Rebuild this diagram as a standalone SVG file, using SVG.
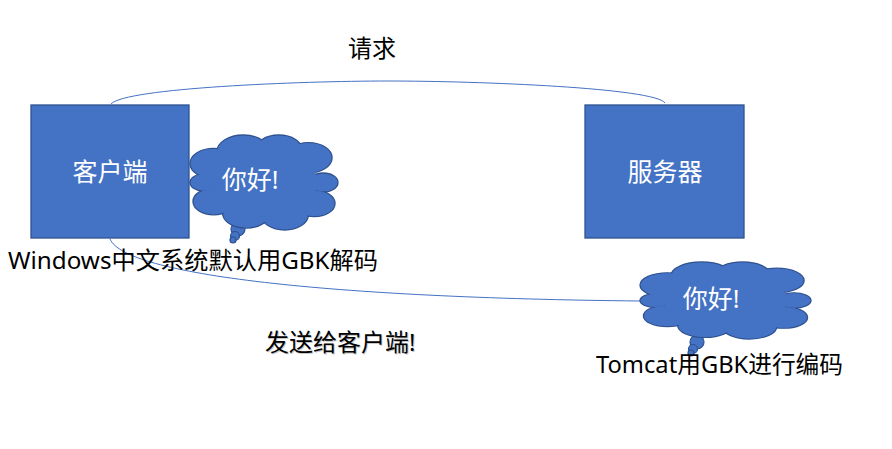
<svg xmlns="http://www.w3.org/2000/svg" xmlns:xlink="http://www.w3.org/1999/xlink" width="892" height="449" viewBox="0 0 892 449">
<style>
.box{fill:#4472C4;stroke:#2F528F;stroke-width:1.3}
.lbl{font-family:"Noto Sans","Noto Sans CJK SC",sans-serif;font-size:24px;fill:#000}
.wl{font-family:"Noto Sans","Noto Sans CJK SC",sans-serif;font-size:25px;fill:#fff;text-anchor:middle}
.conn{fill:none;stroke:#4472C4;stroke-width:1}
.cs circle{fill:#4472C4;stroke:#2F528F;stroke-width:1.3}
.cf circle{fill:#4472C4;stroke:none}
.tail{fill:#4472C4;stroke:#2F528F;stroke-width:1.2}
</style>
<defs>
<g id="cloud">
<g class="cs">
<circle cx="16" cy="30" r="16" vector-effect="non-scaling-stroke"/>
<circle cx="36" cy="18" r="18" vector-effect="non-scaling-stroke"/>
<circle cx="60" cy="16" r="16" vector-effect="non-scaling-stroke"/>
<circle cx="80" cy="24" r="16" vector-effect="non-scaling-stroke"/>
<circle cx="90" cy="50" r="10" vector-effect="non-scaling-stroke"/>
<circle cx="84" cy="72" r="14" vector-effect="non-scaling-stroke"/>
<circle cx="64" cy="84" r="16" vector-effect="non-scaling-stroke"/>
<circle cx="38" cy="82" r="16" vector-effect="non-scaling-stroke"/>
<circle cx="16" cy="70" r="14" vector-effect="non-scaling-stroke"/>
<circle cx="9" cy="50" r="9" vector-effect="non-scaling-stroke"/>
</g>
<g class="cf">
<circle cx="16" cy="30" r="15.3"/>
<circle cx="36" cy="18" r="17.3"/>
<circle cx="60" cy="16" r="15.3"/>
<circle cx="80" cy="24" r="15.3"/>
<circle cx="90" cy="50" r="9.3"/>
<circle cx="84" cy="72" r="13.3"/>
<circle cx="64" cy="84" r="15.3"/>
<circle cx="38" cy="82" r="15.3"/>
<circle cx="16" cy="70" r="13.3"/>
<circle cx="9" cy="50" r="8.3"/>
<circle cx="50" cy="50" r="36"/>
</g>
</g>
</defs>
<g id="connectors">
<path class="conn" d="M111,104 C125,88 300,81 388,81 C480,81 655,88 665,103"/>
<path class="conn" d="M110,239 C125,275 330,298 641,301"/>
</g>
<text class="lbl" x="372" y="57" text-anchor="middle">请求</text>
<g id="client">
<rect class="box" x="31" y="105" width="158" height="133"/>
<text class="wl" x="110" y="181">客户端</text>
</g>
<g id="server">
<rect class="box" x="585" y="105" width="159" height="133"/>
<text class="wl" x="665" y="181">服务器</text>
</g>
<g id="cloud1">
<circle class="tail" cx="238" cy="229" r="7"/>
<circle class="tail" cx="235" cy="236" r="4.5"/>
<circle class="tail" cx="233" cy="240" r="3"/>
<use xlink:href="#cloud" transform="translate(190,135) scale(1.48,0.95)"/>
<text class="wl" x="250" y="189">你好!</text>
</g>
<g id="cloud2">
<circle class="tail" cx="697" cy="342" r="7"/>
<circle class="tail" cx="693" cy="349" r="4.5"/>
<circle class="tail" cx="691" cy="353" r="3"/>
<use xlink:href="#cloud" transform="translate(640,262) scale(1.71,0.77)"/>
<text class="wl" x="711" y="308">你好!</text>
</g>
<text class="lbl" x="8" y="269" textLength="370" lengthAdjust="spacingAndGlyphs">Windows中文系统默认用GBK解码</text>
<text class="lbl" x="266" y="352" style="fill:#c8c8c8">发送给客户端!</text>
<text class="lbl" x="265" y="351">发送给客户端!</text>
<text class="lbl" x="596" y="373" textLength="247" lengthAdjust="spacingAndGlyphs">Tomcat用GBK进行编码</text>
</svg>
